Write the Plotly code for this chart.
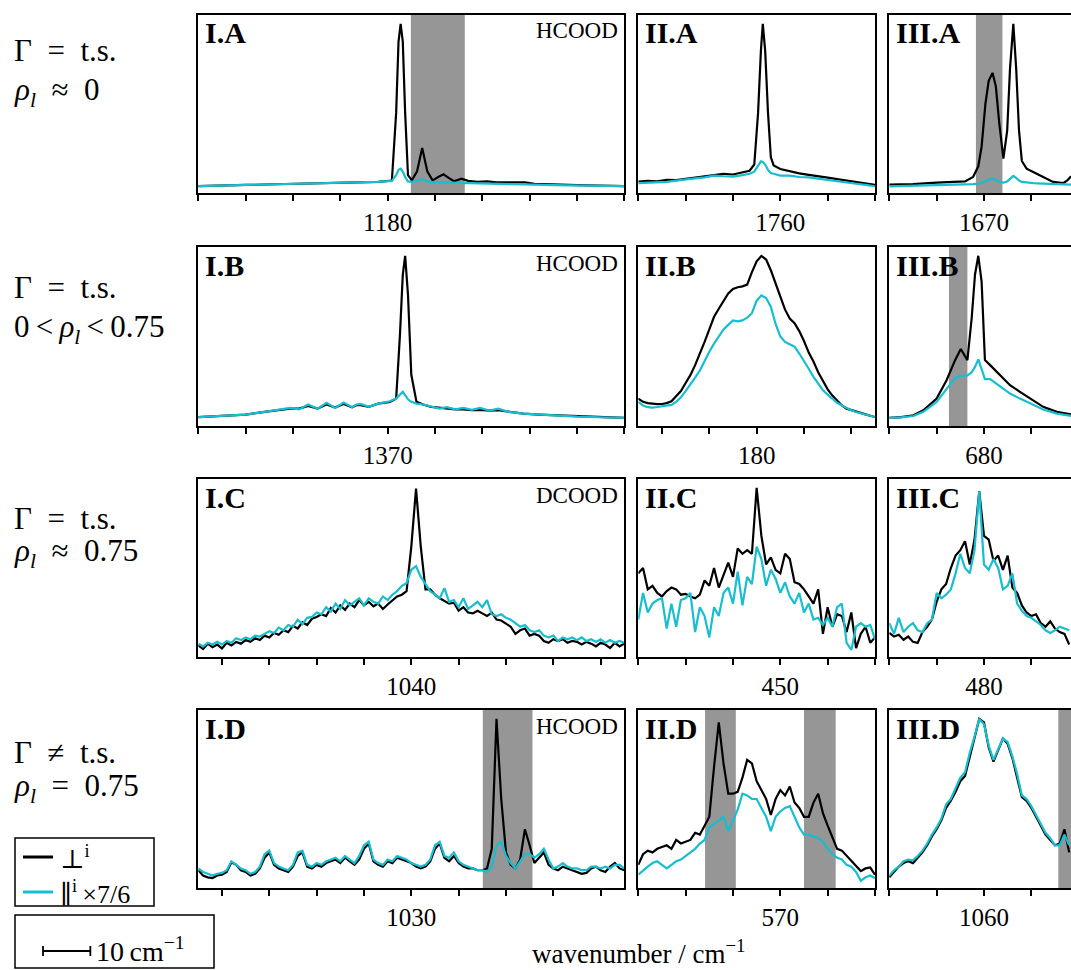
import plotly.graph_objects as go

W, H = 1071, 970
FONT = "Liberation Serif, DejaVu Serif, serif"
BLACK = "#000000"
CYAN = "#17becf"
SHADE = "#969696"

# ---------------- data (intensity in arbitrary units per panel) ----------------
IA_x = [1140, 1150, 1160, 1170, 1178, 1180.9, 1181.8, 1182.3, 1182.75, 1183.2, 1183.7, 1184.3, 1185.1, 1186.2,
        1187.3, 1188.4, 1189.5, 1190.7, 1191.8, 1192.9, 1194, 1195.6, 1197, 1199, 1201, 1203, 1206, 1209, 1211,
        1215, 1222, 1230]
IA_perp = [3.9, 4.5, 5.3, 6.0, 6.3, 7.0, 45, 85, 95, 85, 45, 10, 7.1, 12, 25.3, 12, 7.1, 9, 10.5, 8.5, 6.6, 8,
           6.8, 6.3, 6.5, 6.0, 5.8, 6.0, 5.2, 4.8, 4.3, 3.9]
IA_par = [3.9, 4.5, 5.3, 6.0, 6.3, 6.8, 10, 13, 13.7, 12, 9, 6.5, 6.2, 6.8, 7.7, 6.5, 6.0, 6.0, 5.9, 5.8, 5.8, 5.7,
          5.6, 5.5, 5.4, 5.2, 5.0, 4.8, 4.6, 4.4, 4.1, 3.9]

IIA_x = [1730, 1732, 1734, 1736, 1738, 1740, 1742, 1744, 1746, 1748, 1750, 1752, 1753.5, 1754.5, 1755.3, 1755.9,
         1756.3, 1756.8, 1757.4, 1758.0, 1758.6, 1760, 1762, 1764, 1766, 1768, 1770, 1772, 1774, 1776, 1778, 1780]
IIA_perp = [6.4, 6.8, 6.6, 7.4, 7.2, 8.0, 8.8, 9.6, 10.0, 10.8, 10.4, 11.6, 12.5, 16, 45, 80, 95, 80, 45, 20, 15.5,
            13.5, 12.2, 11.0, 10.2, 9.6, 8.6, 7.8, 7.0, 6.0, 5.4, 4.6]
IIA_par = [5.6, 5.8, 6.0, 6.2, 7.0, 7.8, 8.2, 8.8, 9.8, 9.4, 9.2, 10.0, 10.8, 12.0, 15.0, 17.8, 17.5, 16.0, 13.0,
           11.2, 10.8, 9.8, 9.8, 9.0, 8.8, 8.0, 7.2, 6.6, 6.0, 5.2, 4.6, 3.8]

IIIA_x = [1650, 1655, 1660, 1663, 1666, 1667.7, 1668.8, 1669.5, 1670.3, 1671.0, 1671.8, 1672.5, 1673.2, 1674.1,
          1674.9, 1675.5, 1676.2, 1676.8, 1677.4, 1678.0, 1679.0, 1680.4, 1682.5, 1684.6, 1686.8, 1687.6, 1688.4]
IIIA_perp = [4.7, 5.0, 5.8, 6.2, 6.5, 9, 15, 26, 50, 63, 67.5, 60, 40, 19.3, 35, 70, 95, 70, 35, 18, 13.7, 11.8, 9,
             6.2, 5.6, 7, 9.5]
IIIA_par = [3.75, 4.0, 4.3, 4.5, 4.7, 5.0, 5.3, 5.6, 6.5, 7.5, 8.1, 7.5, 6.3, 5.8, 6.5, 8.0, 9.6, 8.5, 7.0, 6.2, 5.8,
            5.5, 5.3, 5.0, 4.8, 4.7, 4.7]

IB_x = [1330, 1335, 1340, 1344, 1347, 1349.4, 1351.3, 1353.2, 1355.2, 1357.1, 1358.9, 1360.7, 1362.5, 1363.4,
        1364.3, 1366, 1368, 1370.5, 1371.8, 1372.6, 1373.2, 1373.7, 1374.3, 1375.0, 1376.1, 1377.5, 1379.2, 1381,
        1382.5, 1384.3, 1386, 1387.8, 1389.5, 1391.5, 1393.4, 1395.5, 1398.7, 1402, 1405.7, 1410, 1415, 1420]
IB_perp = [5.0, 5.6, 6.4, 7.9, 8.8, 9.7, 9.7, 11.2, 9.7, 12.0, 10.3, 12.3, 10.5, 11.6, 11.6, 10.7, 12.5, 13.5, 15.3,
           50.8, 84.5, 95.1, 73.3, 28.6, 13.5, 12.0, 10.7, 10.1, 9.7, 9.3, 9.3, 8.8, 9.0, 8.6, 8.8, 7.9, 6.9, 6.4,
           6.0, 5.2, 4.9, 4.5]
IB_par = [5.0, 5.6, 6.4, 7.9, 9.0, 10.1, 9.3, 12.0, 9.7, 12.9, 10.1, 13.1, 10.5, 12.0, 12.3, 10.7, 12.5, 13.8, 15.3,
          17.2, 19.1, 17.2, 14.9, 13.5, 12.5, 12.0, 11.0, 9.7, 10.5, 9.3, 10.1, 9.0, 10.1, 8.6, 9.7, 7.9, 6.9, 6.4,
          6.0, 5.2, 4.9, 4.5]

IIB_x = list(range(155, 206))
IIB_perp = [15.3, 13.5, 12.8, 12.3, 12.2, 12.3, 12.8, 13.8, 16.5, 19.5, 24, 28.4, 34, 40, 47, 54, 61, 65.5, 70, 74,
            76.5, 77.5, 78, 79, 86, 92, 95, 93, 87, 80, 72, 65, 60, 57.4, 53, 47.5, 41, 36, 30, 25, 20.5, 17, 14,
            11.5, 9.7, 9, 8.2, 7.2, 6.5, 5.7, 5.0]
IIB_par = [13.5, 11.5, 10.5, 10.3, 10.6, 10.9, 11.2, 11.8, 13.5, 16, 19.5, 23, 27, 31, 36.5, 41.5, 46, 50, 54, 56.5,
           59, 58.5, 59, 60.5, 63, 70, 73, 71.5, 66.7, 57, 50, 47, 45.5, 44.3, 40.5, 36.5, 32, 27.5, 24, 20, 17.5,
           15, 13, 11.5, 10, 8.8, 7.8, 7, 6.2, 5.6, 5.0]

IIIB_x = [660, 662.5, 665.1, 667.2, 670, 672.1, 673.9, 675.1, 676.5, 677.4, 678.1, 678.8, 679.5, 680.2, 681.3, 683.4,
          685.5, 687.6, 689.7, 692.5, 695.4, 698.4]
IIIB_perp = [4.5, 5.0, 6.0, 8.8, 15.3, 25.6, 36.8, 43, 36.8, 60.2, 84.5, 95.1, 80.7, 36.8, 34, 28.4, 22.8, 19.1,
             15.3, 10.7, 7.9, 6.5]
IIIB_par = [4.5, 4.8, 5.6, 7.9, 13.5, 20.9, 26.9, 28, 28.3, 30, 33, 37.2, 32, 26.2, 26.2, 21.9, 18.1, 15.3, 12.5,
            9.2, 6.9, 5.6]

IC_x = list(range(995, 1086))
IC_perp = [6.5, 4.5, 7.5, 5.5, 7, 4.8, 8, 6.5, 8.5, 7.5, 9.5, 8.5, 10.5, 9.5, 12, 11, 13.5, 12.5, 15, 14, 17.5, 16,
           19.5, 18, 21.5, 22.5, 24, 23, 27.5, 25, 29, 26.5, 30, 28, 32, 29, 31, 28.5, 30, 27, 29.5, 31.5, 34, 35,
           37, 62, 94.6, 62, 38, 38, 35, 33, 31.5, 30, 30.5, 26, 28, 25, 24.5, 26, 24.5, 23, 25, 21, 20.5, 18.5, 17,
           13, 15, 16, 12, 13, 12, 9, 8, 10, 9, 10, 8, 9, 8.5, 7, 8.5, 7.5, 6, 8, 7, 5, 8, 6, 7.5]
IC_par = [7.5, 6, 8, 7, 8.5, 7, 9, 8, 10.5, 9.5, 11, 10, 12, 11.5, 13, 14.5, 13.5, 16.5, 15, 18, 17, 21, 18.5, 22,
          22.5, 25, 24, 28, 25.5, 30, 27, 32, 29, 31, 33, 29, 33, 31, 30, 34, 32, 35, 37, 40, 41.5, 49, 51, 45, 41,
          37, 35, 33, 38.7, 31, 32, 28, 33, 27, 29, 31, 28, 32, 24, 23, 24, 22, 21, 19, 17, 18, 15, 14, 15, 12, 11,
          12, 9, 11, 10, 11, 9.5, 11, 9, 10, 8.5, 10, 8, 9.5, 8, 9, 8]

IIC_x = list(range(420, 471))
IIC_perp = [47, 50, 38, 40, 36, 34, 37, 39, 38, 35, 35.5, 34, 33, 35, 43, 40, 50, 39, 46, 53, 45, 61, 58, 60, 58, 95,
            68, 52, 56, 49, 47, 58, 55, 42, 41, 38, 34, 30, 38, 13, 28, 17, 24, 23, 14, 25, 5, 13, 17, 8, 11]
IIC_par = [21, 36, 25, 30, 32, 33, 16, 30, 17, 32, 33, 36, 14, 28, 23, 11, 28, 23, 36, 39, 30, 48, 29, 45, 41, 62,
           55, 40, 49, 44, 36, 42, 34, 30, 36, 25, 30, 21, 22, 18, 22, 17, 28, 30, 8, 4, 17, 19, 17, 18, 10]

IIIC_x = list(range(460, 499))
IIIC_perp = [13.5, 11.5, 12.5, 9.7, 11.5, 8.5, 7.9, 14, 17, 21, 31, 38, 41, 50, 57, 60, 65, 52, 66, 93, 68, 66, 54,
             57, 49, 57, 39, 36, 29, 25, 23, 24, 19, 17, 20, 16, 14, 13, 7]
IIIC_par = [19, 13, 22, 14, 17, 19, 15, 14, 19, 21, 36, 33, 35, 38, 47, 58, 50, 47, 60, 93, 52, 49, 55, 50, 38, 40,
            47, 30, 26, 23, 22, 20, 18, 15, 13.5, 15, 17, 16, 15]

ID_x = list(range(985, 1076))
ID_perp = [10, 7, 6, 5.6, 7, 7.5, 9, 14.5, 13, 10, 9, 7, 8, 11, 17, 20, 13, 11, 10, 9, 12, 18, 20, 12, 11, 13, 12,
           14, 15, 16, 14, 17, 15, 13, 16, 22, 25, 15, 13, 12, 15, 14, 17, 16, 15, 14, 12, 11, 12, 15, 22, 25, 17,
           15, 18, 14, 12, 11, 11, 10, 10, 11, 22, 95, 50, 20, 13, 11, 16, 33, 24, 14, 17, 20, 13, 11, 10, 12, 11,
           10, 9, 8, 8.5, 11, 12, 10, 9, 12, 14, 11, 10]
ID_par = [11, 9, 8, 7, 8, 8.5, 10, 15, 13, 11, 10, 8, 9, 12, 19, 21, 14, 12, 11, 10, 13, 20, 21, 13, 12, 14, 13, 15,
          16, 17, 15, 18, 16, 14, 18, 24, 26, 16, 14, 13, 16, 15, 18, 17, 16, 14, 13, 12, 13, 16, 24, 26, 18, 17,
          20, 15, 13, 12, 11, 10, 10, 9, 12, 24, 26, 18, 14, 11, 15, 19, 19, 17, 19, 22, 16, 11, 12, 14, 12, 11, 11,
          10, 10, 12, 12, 11, 12, 11, 13, 13, 11]

IID_x = list(range(540, 591))
IID_perp = [13, 19, 21, 20, 22, 23, 24, 22, 27, 25, 26, 27, 31, 30, 35, 40, 68, 93, 70, 53, 53, 54, 62, 72, 70, 60,
            55, 50, 41, 50, 55, 52, 57, 48, 45, 40, 40, 48, 53, 42, 35, 28, 22, 21, 18, 15, 12, 9.5, 11, 11.5, 7.5]
IID_par = [7.5, 10, 12, 14, 15, 13, 11, 13, 15, 16, 18, 20, 22, 25, 27, 34, 36, 38, 40, 32, 38, 44, 53, 52, 50, 50,
           45, 40, 32, 40, 43, 45, 46, 40, 34, 30, 30, 29, 28, 26, 22, 19, 17, 16, 13, 12, 9, 4, 6, 7, 5.5]

IIID_x = list(range(1040, 1079))
IIID_perp = [6, 9, 12, 14, 15, 14, 17, 20, 24, 29, 33, 38, 45, 49, 54, 60, 63, 74, 84, 95, 93, 79, 71, 77, 84, 81,
             73, 62, 51, 49, 45, 40, 35, 30, 27, 24, 25, 33, 20]
IIID_par = [7, 10, 12, 15, 16, 15.5, 18, 21, 25, 30, 34, 39, 47, 50, 56, 62, 65, 76, 85, 95, 92, 80, 72, 78, 84, 82,
            74, 64, 52, 50, 46, 41, 36, 31, 28, 24, 24, 30, 24]

PANEL_IDS = ["I.A", "II.A", "III.A", "I.B", "II.B", "III.B", "I.C", "II.C", "III.C", "I.D", "II.D", "III.D"]
X_DATA = [IA_x, IIA_x, IIIA_x, IB_x, IIB_x, IIIB_x, IC_x, IIC_x, IIIC_x, ID_x, IID_x, IIID_x]
PERP = [IA_perp, IIA_perp, IIIA_perp, IB_perp, IIB_perp, IIIB_perp, IC_perp, IIC_perp, IIIC_perp, ID_perp,
        IID_perp, IIID_perp]
PAR = [IA_par, IIA_par, IIIA_par, IB_par, IIB_par, IIIB_par, IC_par, IIC_par, IIIC_par, ID_par, IID_par, IIID_par]
X_START = [1140, 1730, 1650, 1330, 155, 660, 995, 420, 460, 985, 540, 1040]
LABEL_TICK = [1180, 1760, 1670, 1370, 180, 680, 1040, 450, 480, 1030, 570, 1060]
SAMPLE = ["HCOOD", "", "", "HCOOD", "", "", "DCOOD", "", "", "HCOOD", "", ""]
SHADED = {"I.A": [(1184.9, 1196.3)], "III.A": [(1668.3, 1673.9)], "III.B": [(672.6, 676.5)],
          "I.D": [(1045.1, 1055.6)], "II.D": [(554.1, 560.6), (575.0, 581.7)], "III.D": [(1075.7, 1095)]}
COL_SPAN = [90, 50, 50]          # cm^-1 covered by a full-width panel in each column
TICK_STEP = 10
EN = "\u2002"
TH = "\u2009"
ROW_TEXT = [("Γ" + EN + "=" + EN + "t.s.", "<i>ρ</i><sub><i>l</i></sub>" + EN + "≈" + EN + "0"),
            ("Γ" + EN + "=" + EN + "t.s.", "0" + TH + "&lt;" + TH + "<i>ρ</i><sub><i>l</i></sub>" + TH + "&lt;" + TH + "0.75"),
            ("Γ" + EN + "=" + EN + "t.s.", "<i>ρ</i><sub><i>l</i></sub>" + EN + "≈" + EN + "0.75"),
            ("Γ" + EN + "≠" + EN + "t.s.", "<i>ρ</i><sub><i>l</i></sub>" + EN + "=" + EN + "0.75")]
LEGEND_TEXT = ["⊥<sup>i</sup>", "∥<sup>i</sup>" + TH + "×7/6"]
SCALE_TEXT = "10" + TH + "cm<sup>−1</sup>"
XLABEL = "wavenumber / cm<sup>−1</sup>"

# ---------------- layout geometry (pixels) ----------------
COLS_PX = [(198.3, 624.3), (638.3, 875.0), (889.3, 1071.0)]
ROWS_PX = [(15, 193), (247, 426), (479, 657), (710, 888)]
PX_PER_CM = (COLS_PX[1][1] - COLS_PX[1][0]) / COL_SPAN[1]


def px(xp):
    return xp / W


def py(yp):
    return 1 - yp / H


fig = go.Figure()
layout = dict(width=W, height=H, margin=dict(l=0, r=0, t=0, b=0), paper_bgcolor="white",
              plot_bgcolor="white", showlegend=False, font=dict(family=FONT, color="black"))
shapes, annotations = [], []

for i, pid in enumerate(PANEL_IDS):
    r, c = divmod(i, 3)
    n = i + 1
    sx = "" if n == 1 else str(n)
    xref, yref = "x" + sx, "y" + sx
    x0p, x1p = COLS_PX[c]
    y0p, y1p = ROWS_PX[r]
    xmin = X_START[i]
    xmax = xmin + (x1p - x0p) / PX_PER_CM if c == 2 else xmin + COL_SPAN[c]
    minor_tv = [t for t in range(int(xmin // TICK_STEP) * TICK_STEP, int(xmax) + 1, TICK_STEP)
                if xmin - 1e-6 <= t <= xmax + 1e-6 and t != LABEL_TICK[i]]
    layout["xaxis" + sx] = dict(domain=[px(x0p), px(x1p)], range=[xmin, xmax], anchor=yref,
                                showline=True, linecolor="black", linewidth=2, mirror=True,
                                ticks="outside", ticklen=6, tickwidth=1.5, tickcolor="black",
                                tickvals=[LABEL_TICK[i]], ticktext=[str(LABEL_TICK[i])],
                                tickfont=dict(family=FONT, size=25, color="black"),
                                minor=dict(tickvals=minor_tv, ticks="outside", ticklen=6, tickwidth=1.5,
                                           tickcolor="black", showgrid=False),
                                ticklabelstandoff=0, showgrid=False, zeroline=False, fixedrange=True)
    layout["yaxis" + sx] = dict(domain=[py(y1p), py(y0p)], range=[0, 100], anchor=xref,
                                showline=True, linecolor="black", linewidth=2, mirror=(c != 2),
                                showticklabels=False, ticks="", showgrid=False, zeroline=False, fixedrange=True)
    fig.add_trace(go.Scatter(x=X_DATA[i], y=PERP[i], mode="lines", xaxis=xref, yaxis=yref,
                             line=dict(color=BLACK, width=2.2), name="⊥ⁱ"))
    fig.add_trace(go.Scatter(x=X_DATA[i], y=PAR[i], mode="lines", xaxis=xref, yaxis=yref,
                             line=dict(color=CYAN, width=2.2), name="∥ⁱ ×7/6"))
    for (a, b) in SHADED.get(pid, []):
        shapes.append(dict(type="rect", xref=xref, yref=yref + " domain", x0=a, x1=min(b, xmax), y0=0, y1=1,
                           fillcolor=SHADE, line=dict(width=0), layer="below"))
    annotations.append(dict(text="<b>" + pid + "</b>", xref=xref + " domain", yref=yref + " domain", x=0, y=1,
                            xanchor="left", yanchor="middle", xshift=5, yshift=-18, showarrow=False,
                            font=dict(family=FONT, size=30, color="black")))
    if SAMPLE[i]:
        annotations.append(dict(text=SAMPLE[i], xref=xref + " domain", yref=yref + " domain", x=1, y=1,
                                xanchor="right", yanchor="middle", xshift=-4, yshift=-16, showarrow=False,
                                font=dict(family=FONT, size=23, color="black")))

# row descriptions
ROW_LINE_Y = [(50, 92), (287, 329), (518, 553), (752, 788)]
for (l1, l2), (ya, yb) in zip(ROW_TEXT, ROW_LINE_Y):
    for txt, yy in ((l1, ya), (l2, yb)):
        annotations.append(dict(text=txt, xref="paper", yref="paper", x=px(12), y=py(yy), xanchor="left",
                                yanchor="middle", showarrow=False, font=dict(family=FONT, size=31, color="black")))

# common x label
annotations.append(dict(text=XLABEL, xref="paper", yref="paper", x=px(639), y=py(952),
                        xanchor="center", yanchor="middle", showarrow=False,
                        font=dict(family=FONT, size=27, color="black")))

# legend box
shapes.append(dict(type="rect", xref="paper", yref="paper", x0=px(15), x1=px(154), y0=py(906), y1=py(838),
                   line=dict(color="black", width=1.5), fillcolor="white"))
for yy, col, txt in ((857, BLACK, LEGEND_TEXT[0]), (892, CYAN, LEGEND_TEXT[1])):
    shapes.append(dict(type="line", xref="paper", yref="paper", x0=px(23), x1=px(53), y0=py(yy), y1=py(yy),
                       line=dict(color=col, width=3)))
    annotations.append(dict(text=txt, xref="paper", yref="paper", x=px(58), y=py(yy), xanchor="left",
                            yanchor="middle", showarrow=False, font=dict(family=FONT, size=26, color="black")))

# scale bar box: 10 cm^-1 drawn with the panels' own pixel scale
shapes.append(dict(type="rect", xref="paper", yref="paper", x0=px(15), x1=px(214), y0=py(968), y1=py(915),
                   line=dict(color="black", width=1.5), fillcolor="white"))
bar_x0 = 43
bar_x1 = bar_x0 + 10 * PX_PER_CM
bar_y = 951
shapes.append(dict(type="line", xref="paper", yref="paper", x0=px(bar_x0), x1=px(bar_x1), y0=py(bar_y),
                   y1=py(bar_y), line=dict(color="black", width=1.8)))
for xx in (bar_x0, bar_x1):
    shapes.append(dict(type="line", xref="paper", yref="paper", x0=px(xx), x1=px(xx), y0=py(bar_y - 5),
                       y1=py(bar_y + 5), line=dict(color="black", width=1.8)))
annotations.append(dict(text=SCALE_TEXT, xref="paper", yref="paper", x=px(bar_x1 + 4), y=py(bar_y - 2),
                        xanchor="left", yanchor="middle", showarrow=False,
                        font=dict(family=FONT, size=28, color="black")))

layout["shapes"] = shapes
layout["annotations"] = annotations
fig.update_layout(**layout)
fig.write_html("out.html", config={"displayModeBar": False})
